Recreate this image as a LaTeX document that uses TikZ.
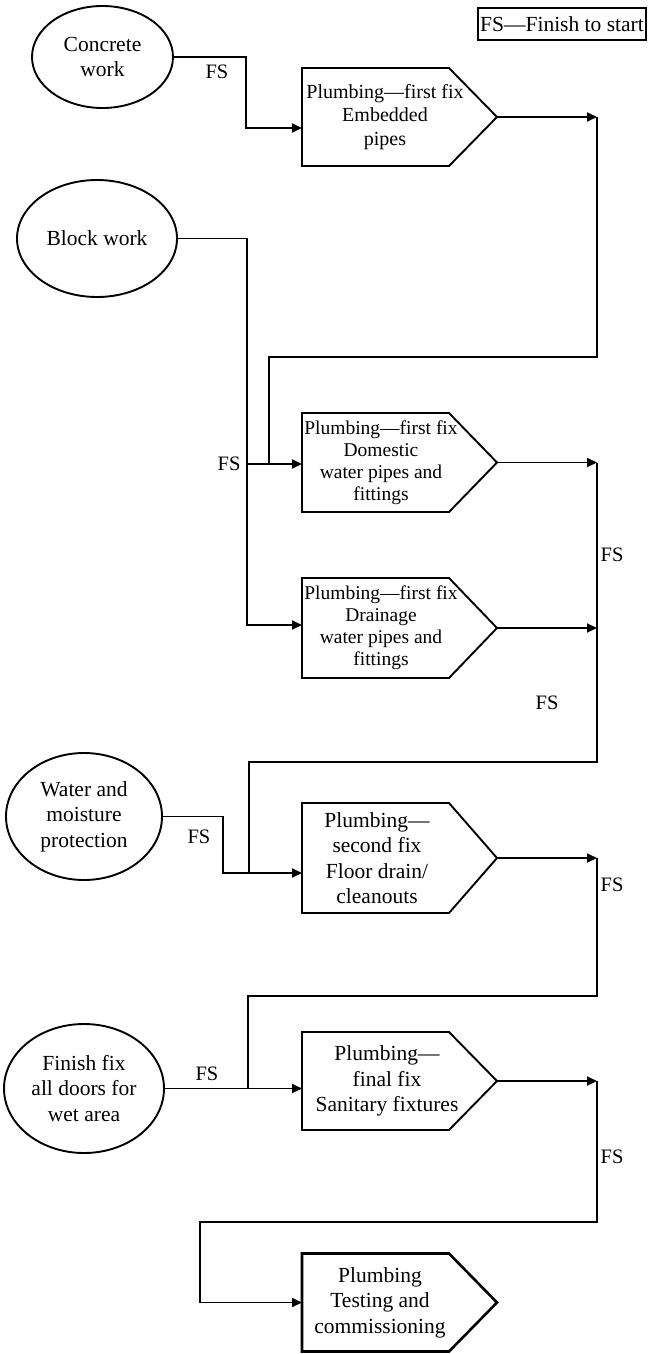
\documentclass[tikz,border=0pt]{standalone}
\usepackage{fontspec}
\setmainfont{Liberation Serif}
\usetikzlibrary{shapes.geometric,arrows.meta}
\begin{document}
\begin{tikzpicture}[x=1pt,y=-1pt,
  line width=1.9pt,
  event/.style={ellipse,draw,inner sep=0pt,outer sep=0pt,align=center,
    font=\fontsize{21.5}{25.5}\selectfont},
  taskarea/.style={rectangle,draw=none,inner sep=0pt,outer sep=0pt,minimum width=195pt},
  outline/.style={line width=1.9pt,line join=miter},
  smalltext/.style={align=center,inner sep=0pt,font=\fontsize{19.5}{22}\selectfont},
  midtext/.style={align=center,inner sep=0pt,font=\fontsize{20}{23.5}\selectfont},
  bigtext/.style={align=center,inner sep=0pt,font=\fontsize{21.5}{25.5}\selectfont},
  rel/.style={inner sep=0pt,font=\fontsize{20.5}{24}\selectfont},
  link/.style={line width=1.9pt},
  arr/.style={link,-{Triangle[length=10pt,width=9pt]}},
]
\useasboundingbox (0,0) rectangle (650,1354);

% legend
\node[draw,line width=1.2pt,inner sep=0pt,minimum width=168pt,minimum height=32pt,
  font=\fontsize{21.5}{25.5}\selectfont] (legend) at (562,24) {FS—Finish to start};

% predecessor activities
\node[event,minimum width=141pt,minimum height=102pt] (e1) at (102.5,57) {Concrete\\work};
\node[event,minimum width=160pt,minimum height=117pt] (e2) at (97,238.5) {Block work};
\node[event,minimum width=156pt,minimum height=127pt] (e3) at (84,816.5) {Water and\\moisture\\protection};
\node[event,minimum width=160pt,minimum height=129pt] (e4) at (84,1088.5) {Finish fix\\all doors for\\wet area};

% plumbing activities (pentagon areas)
\node[taskarea,minimum height=98pt]  (b1) at (399.5,117) {};
\node[taskarea,minimum height=99pt]  (b2) at (399.5,462.5) {};
\node[taskarea,minimum height=100pt] (b3) at (399.5,628) {};
\node[taskarea,minimum height=110pt] (b4) at (399.5,858) {};
\node[taskarea,minimum height=98pt]  (b5) at (399.5,1081) {};
\node[taskarea,minimum height=98pt]  (b6) at (399.5,1302.5) {};

\foreach \n in {b1,b2,b3,b4,b5}
  \draw[outline] (\n.north west) -- ([xshift=-48pt]\n.north east) -- (\n.east)
    -- ([xshift=-48pt]\n.south east) -- (\n.south west) -- cycle;
\draw[outline,line width=2.6pt] (b6.north west) -- ([xshift=-48pt]b6.north east) -- (b6.east)
    -- ([xshift=-48pt]b6.south east) -- (b6.south west) -- cycle;

\node[midtext]   (b1t) at ([xshift=-14.5pt]b1.center) {Plumbing—first fix\\Embedded\\pipes};
\node[smalltext] (b2t) at ([xshift=-18.5pt]b2.center) {Plumbing—first fix\\Domestic\\water pipes and\\fittings};
\node[smalltext] (b3t) at ([xshift=-18.5pt]b3.center) {Plumbing—first fix\\Drainage\\water pipes and\\fittings};
\node[bigtext]   (b4t) at ([xshift=-22.5pt]b4.center) {Plumbing—\\second fix\\Floor drain/\\cleanouts};
\node[bigtext]   (b5t) at ([xshift=-12.5pt]b5.center) {Plumbing—\\final fix\\Sanitary fixtures};
\node[bigtext]   (b6t) at ([xshift=-19.5pt]b6.center) {Plumbing\\Testing and\\commissioning};

% junction points
\coordinate (spine) at (597,0);
\coordinate (j1) at (246,128);
\coordinate (j2) at (247,464);
\coordinate (j3) at (247,625);
\coordinate (j4) at (223,873);

% concrete work -> embedded pipes
\draw[arr] (e1.east) -| (j1) -- (j1 -| b1.west);
% embedded pipes -> domestic water
\draw[arr] (b1.east) -- (b1.east -| spine);
\draw[link] (b1.east -| spine) -- (597,357) -| (269,464);
% block work -> domestic water, drainage
\draw[arr] (j2) -- (j2 -| b2.west);
\draw[arr] (e2.east) -| (j3) -- (j3 -| b3.west);
% domestic water, drainage -> second fix
\draw[arr] (b2.east) -- (b2.east -| spine);
\draw[arr] (b3.east) -- (b3.east -| spine);
\draw[link] (b2.east -| spine) -- (597,762) -| (249,873);
% water and moisture protection -> second fix
\draw[arr] (e3.east) -| (j4) -- (j4 -| b4.west);
% second fix -> final fix
\draw[arr] (b4.east) -- (b4.east -| spine);
\draw[link] (b4.east -| spine) -- (597,996) -| (248,1088.5);
% finish fix doors -> final fix
\draw[arr] (e4.east) -- (e4.east -| b5.west);
% final fix -> testing and commissioning
\draw[arr] (b5.east) -- (b5.east -| spine);
\draw[arr] (b5.east -| spine) -- (597,1222) -| (200,1302.5) -- (b6.west);

% relationship labels
\node[rel] (fs1) at (217,72) {FS};
\node[rel] (fs2) at (229,464) {FS};
\node[rel] (fs3) at (612,555) {FS};
\node[rel] (fs4) at (547,703) {FS};
\node[rel] (fs5) at (199,837) {FS};
\node[rel] (fs6) at (612,885) {FS};
\node[rel] (fs7) at (207,1074) {FS};
\node[rel] (fs8) at (612,1157) {FS};
\end{tikzpicture}
\end{document}
